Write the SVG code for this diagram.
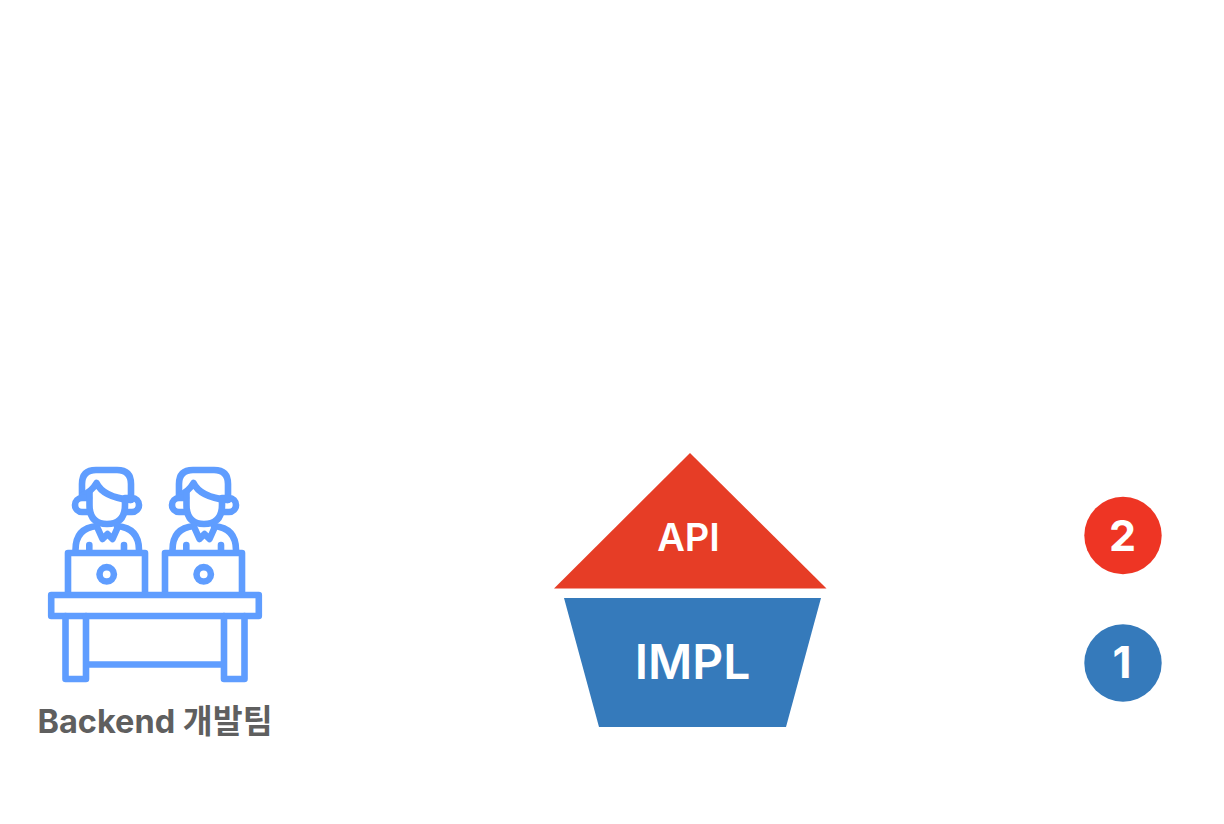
<svg xmlns="http://www.w3.org/2000/svg" xmlns:xlink="http://www.w3.org/1999/xlink" width="1224" height="824" viewBox="0 0 1224 824">
<style>
.ic{fill:none;stroke:#5f9dff;stroke-width:6.600;stroke-linejoin:round;stroke-linecap:round}
.t{font-family:Inter,"Noto Sans CJK KR",sans-serif;text-anchor:middle}
.w{fill:#fff}
</style>
<defs>
<g id="worker">
<path class="ic" d="M82 496V484Q82 470 96 470H117Q131 470 131 484V500"/>
<path class="ic" d="M83 495Q92 491 96.500 483Q103 497 130 500"/>
<path class="ic" d="M89 498H82A7 7 0 0 0 82 512H89M125 498H132A7 7 0 0 1 132 512H125"/>
<path class="ic" d="M89.500 492V505Q89.500 524 107 524Q125 524 125 505V499"/>
<path class="ic" d="M75.500 550Q75.500 528 97 526M117 526Q139 528 139 550"/>
<path class="ic" d="M98 529L102.500 539L107.500 534L112.500 539L117 529"/>
<path class="ic" d="M89.300 545V551M124 545V551"/>
<path class="ic" d="M68 592V553H145V592"/>
<circle class="ic" cx="106.700" cy="574.300" r="7.200"/>
</g>
</defs>
<rect width="1224" height="824" fill="#fff"/>
<g id="backend-team">
<use xlink:href="#worker" href="#worker"/>
<use xlink:href="#worker" href="#worker" x="97"/>
<rect class="ic" x="51.200" y="595" width="207.600" height="21"/>
<path class="ic" d="M65.500 616V679H86V616M86 664.500H224M224 616V679H244.500V616"/>
<text class="t" x="155" y="733" font-size="32.500" font-weight="700" fill="#5f5f5f">Backend 개발팀</text>
</g>
<g id="api">
<polygon points="690,453 826.500,588.500 554,588.500" fill="#e63d26"/>
<text class="t w" x="688.500" y="551" font-size="38" font-weight="600">API</text>
</g>
<g id="impl">
<polygon points="564,598 821,598 786,727 599,727" fill="#357abb"/>
<text class="t w" x="692.500" y="679" font-size="48" font-weight="600">IMPL</text>
</g>
<g id="badge-2">
<circle cx="1123" cy="535.500" r="38.700" fill="#ee3524"/>
<text class="t w" x="1122.500" y="551" font-size="43" font-weight="700">2</text>
</g>
<g id="badge-1">
<circle cx="1123" cy="663" r="38.700" fill="#357abb"/>
<text class="t w" x="1122" y="678" font-size="44" font-weight="700">1</text>
</g>
<g id="connectors"/>
</svg>
